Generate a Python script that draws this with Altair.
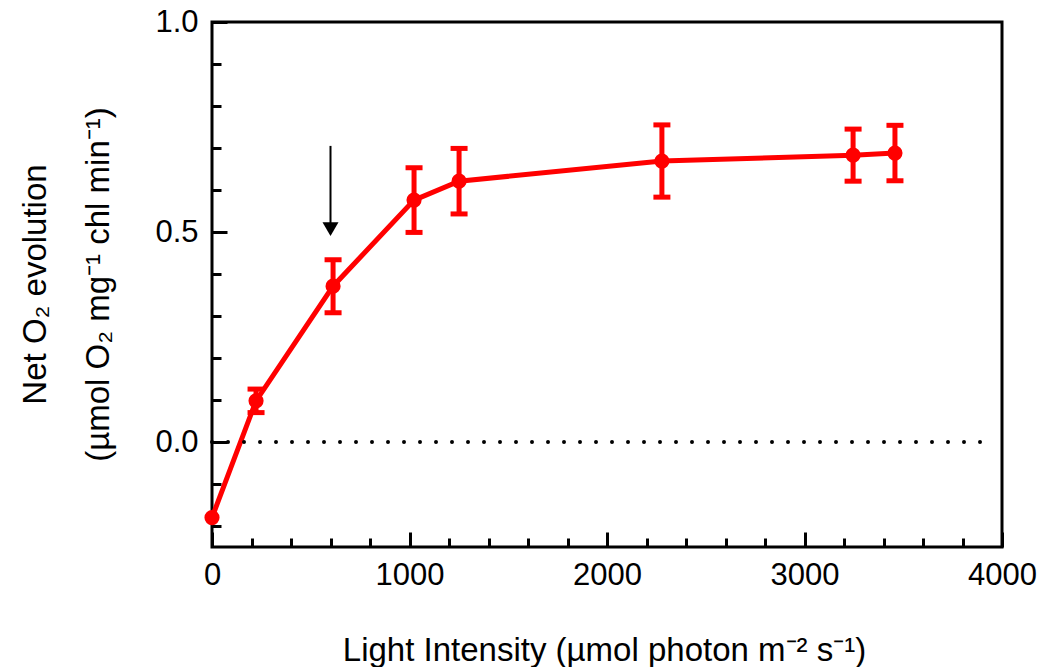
import altair as alt
import pandas as pd

# ---- data ----
light = [0, 223, 613, 1023, 1251, 2278, 3246, 3458]
rate = [-0.18, 0.098, 0.371, 0.576, 0.621, 0.669, 0.683, 0.688]
err = [0.0, 0.028, 0.063, 0.077, 0.078, 0.086, 0.062, 0.066]

x_major = [0, 1000, 2000, 3000, 4000]
x_minor = [200, 400, 600, 800, 1200, 1400, 1600, 1800, 2200, 2400, 2600, 2800,
           3200, 3400, 3600, 3800]
y_major = [0.0, 0.5, 1.0]
y_minor = [-0.2, -0.1, 0.1, 0.2, 0.3, 0.4, 0.6, 0.7, 0.8, 0.9]

arrow_x = [600]
arrow_top = [0.705]
arrow_head = [0.507]

zero_start = [0]
zero_end = [3950]
zero_level = [0.0]

x_title = "Light Intensity (µmol photon m⁻² s⁻¹)"
y_title = ["Net O₂ evolution", "(µmol O₂ mg⁻¹ chl min⁻¹)"]

# ---- tables ----
df = pd.DataFrame({"light": light, "rate": rate, "err": err})
df["lo"] = df["rate"] - df["err"]
df["hi"] = df["rate"] + df["err"]
bars = df[df["err"] > 0]
arrow = pd.DataFrame({"x": arrow_x, "top": arrow_top, "head": arrow_head})
zero = pd.DataFrame({"x": zero_start, "x2": zero_end, "y": zero_level})

FONT = "Liberation Sans"
RED = "#ff0000"
W, H = 790, 525

xs = alt.Scale(domain=[0, 4000], nice=False, zero=False)
ys = alt.Scale(domain=[-0.25, 1.0], nice=False, zero=False)

x_lab = alt.Axis(orient="bottom", values=x_major, format="d", ticks=False, domain=False,
                 grid=False, labelFont=FONT, labelFontSize=31, labelColor="black",
                 labelPadding=13, labelFlush=False, labelOverlap=False, labelBound=False,
                 title=x_title, titleFont=FONT, titleFontSize=33, titleFontWeight="normal",
                 titleColor="black", titleX=392, titleY=113, titleAlign="center",
                 titleBaseline="alphabetic")
y_lab = alt.Axis(orient="left", values=y_major, format=".1f", ticks=False, domain=False,
                 grid=False, labelFont=FONT, labelFontSize=31, labelColor="black",
                 labelPadding=14, labelFlush=False, labelOverlap=False, labelBound=False,
                 title=y_title, titleFont=FONT, titleFontSize=33, titleFontWeight="normal",
                 titleColor="black", titleX=-167, titleY=262, titleAlign="center",
                 titleBaseline="alphabetic", titleLineHeight=63, titleAngle=270)

def tick_axis(orient, offset, values, size):
    return alt.Axis(orient=orient, offset=offset, values=values, labels=False, domain=False,
                    grid=False, ticks=True, tickSize=size, tickWidth=3, tickColor="black",
                    title=None)

x_maj = tick_axis("top", -H, x_major, 15)
x_min = tick_axis("top", -H, x_minor, 9)
y_maj = tick_axis("right", -W, y_major, 15)
y_min = tick_axis("right", -W, y_minor, 9)

zero_line = alt.Chart(zero).mark_rule(
    color="black", strokeWidth=4, strokeDash=[0, 16], strokeCap="round"
).encode(
    x=alt.X("x:Q", scale=xs, axis=None), x2="x2:Q",
    y=alt.Y("y:Q", scale=ys, axis=None),
)

shaft = alt.Chart(arrow).mark_rule(color="black", strokeWidth=2).encode(
    x=alt.X("x:Q", scale=xs, axis=None),
    y=alt.Y("top:Q", scale=ys, axis=None), y2="head:Q",
)
head = alt.Chart(arrow).mark_point(
    shape="triangle-down", filled=True, size=256, color="black", opacity=1
).encode(
    x=alt.X("x:Q", scale=xs, axis=None),
    y=alt.Y("head:Q", scale=ys, axis=None),
)

line = alt.Chart(df).mark_line(color=RED, strokeWidth=5).encode(
    x=alt.X("light:Q", scale=xs, axis=x_lab),
    y=alt.Y("rate:Q", scale=ys, axis=y_lab),
)

rules = alt.Chart(bars).mark_rule(color=RED, strokeWidth=5).encode(
    x=alt.X("light:Q", scale=xs, axis=x_min),
    y=alt.Y("lo:Q", scale=ys, axis=y_min), y2="hi:Q",
)
cap_lo = alt.Chart(bars).mark_tick(color=RED, thickness=5, size=17, orient="horizontal",
                                   opacity=1).encode(
    x=alt.X("light:Q", scale=xs, axis=None),
    y=alt.Y("lo:Q", scale=ys, axis=None),
)
cap_hi = alt.Chart(bars).mark_tick(color=RED, thickness=5, size=17, orient="horizontal",
                                   opacity=1).encode(
    x=alt.X("light:Q", scale=xs, axis=None),
    y=alt.Y("hi:Q", scale=ys, axis=None),
)

points = alt.Chart(df).mark_circle(color=RED, size=230, opacity=1).encode(
    x=alt.X("light:Q", scale=xs, axis=x_maj),
    y=alt.Y("rate:Q", scale=ys, axis=y_maj),
)

chart = alt.layer(
    line, rules, points, zero_line, shaft, head, cap_lo, cap_hi
).resolve_axis(
    x="independent", y="independent"
).properties(
    width=W, height=H,
    autosize=alt.AutoSizeParams(type="none"),
    padding={"left": 212, "top": 22, "right": 44, "bottom": 120},
    background="white",
).configure_view(
    stroke="black", strokeWidth=3
)

chart.save("out.html", embed_options={"renderer": "svg", "actions": False})
